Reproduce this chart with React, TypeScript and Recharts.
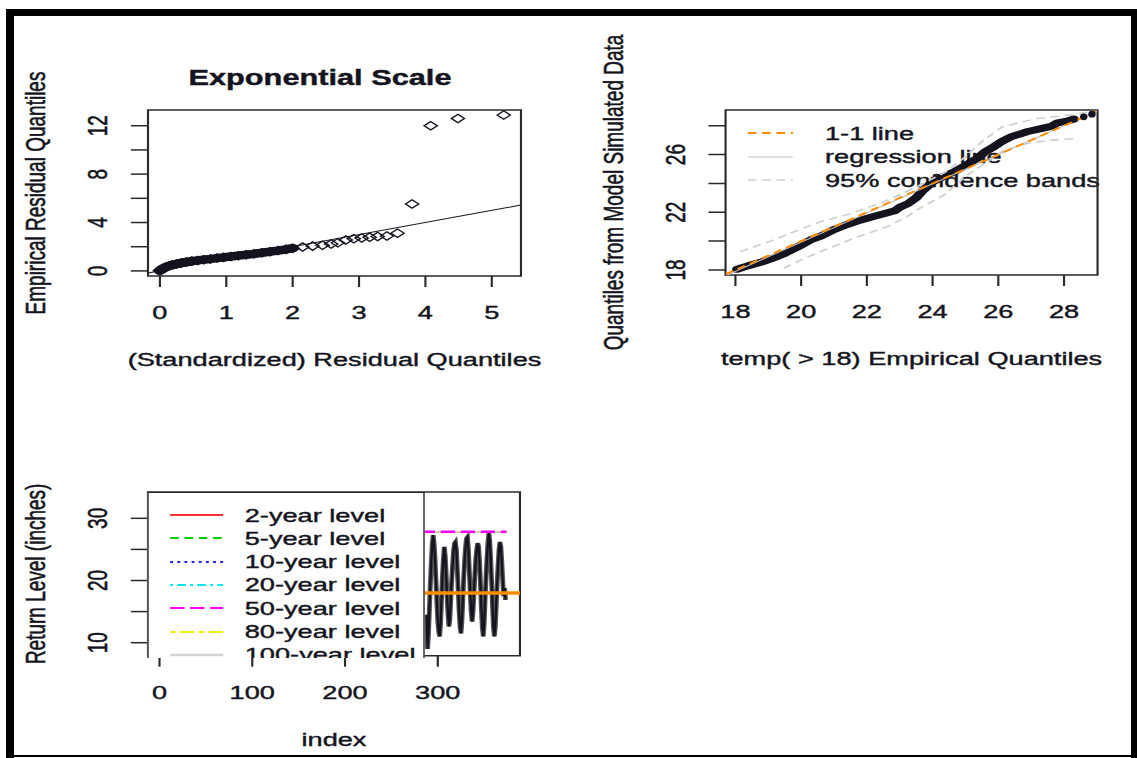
import React from 'react';
import { ComposedChart, Line, Scatter, XAxis, YAxis, ReferenceArea, Legend } from 'recharts';

// ---------------- data ----------------
// Panel 1: exponential-scale QQ plot
const expTheoDense = [0.0, 0.02, 0.04, 0.07, 0.1, 0.14, 0.19, 0.25, 0.32, 0.4, 0.48, 0.57, 0.66, 0.76, 0.86, 0.96, 1.07, 1.18, 1.3, 1.42, 1.54, 1.66, 1.78, 1.9, 2.0];
const expEmpDense = [0.02, 0.1, 0.18, 0.26, 0.34, 0.42, 0.5, 0.58, 0.66, 0.74, 0.81, 0.87, 0.93, 0.99, 1.06, 1.12, 1.19, 1.26, 1.33, 1.41, 1.5, 1.59, 1.68, 1.78, 1.88];
const expTheoTail = [2.15, 2.3, 2.45, 2.58, 2.68, 2.8, 2.92, 3.04, 3.16, 3.28, 3.42, 3.58, 3.8, 4.08, 4.49, 5.18];
const expEmpTail = [1.98, 2.05, 2.12, 2.22, 2.32, 2.55, 2.65, 2.72, 2.78, 2.85, 2.88, 3.12, 5.54, 12.0, 12.6, 12.88];
const expXDomain = [-0.18, 5.44];
const expYDomain = [-0.42, 13.3];
const expXTicks = [0, 1, 2, 3, 4, 5];
const expYTicks = [0, 2, 4, 6, 8, 10, 12];
const expYLabels = [0, 4, 8, 12];

// Panel 2: model vs empirical quantiles
const qqEmp = [18.05, 18.4, 18.8, 19.1, 19.5, 19.9, 20.3, 20.6, 21.0, 21.4, 21.8, 22.2, 22.6, 22.85, 23.0, 23.25, 23.5, 23.7, 24.0, 24.3, 24.65, 25.0, 25.36, 25.6, 25.8, 26.1, 26.4, 26.9, 27.3, 27.6, 27.8, 28.05, 28.3];
const qqModel = [18.05, 18.3, 18.55, 18.78, 19.15, 19.6, 20.1, 20.35, 20.8, 21.15, 21.45, 21.7, 21.95, 22.1, 22.35, 22.6, 23.0, 23.5, 24.1, 24.45, 24.8, 25.25, 25.74, 26.2, 26.45, 26.9, 27.24, 27.6, 27.8, 27.95, 28.2, 28.3, 28.46];
const qqEmpEnd = [28.3, 28.6, 28.85];
const qqModelEnd = [28.46, 28.62, 28.8];
const upperEmp = [18.15, 19.07, 20.07, 20.6, 21.5, 22.5, 23.5, 24.4, 25.0, 25.5, 26.1, 26.6, 27.2, 28.2, 28.9];
const upperModel = [19.27, 20.0, 20.9, 21.35, 21.9, 22.7, 23.75, 24.8, 25.85, 26.9, 27.9, 28.2, 28.5, 28.75, 29.0];
const lowerEmp = [19.47, 20.0, 20.59, 21.6, 22.62, 23.3, 23.43, 24.35, 25.06, 25.67, 26.17, 26.89, 27.6, 28.4];
const lowerModel = [18.12, 18.7, 19.27, 20.2, 21.0, 21.8, 22.04, 23.2, 24.58, 25.5, 26.3, 26.78, 27.0, 27.12];
const oneToOne = [17.7, 29.02];
const regressionX = [17.7, 29.02];
const regressionY = [17.6, 29.05];
const qqXDomain = [17.7, 29.02];
const qqYDomain = [17.65, 29.09];
const qqXTicks = [18, 20, 22, 24, 26, 28];
const qqYTicks = [18, 20, 22, 24, 26, 28];
const qqYLabels = [18, 22, 26];
const qqLegendLabels = ['1-1 line', 'regression line', '95% confidence bands'];
const qqLegendColors = ['#FF8C00', '#BEBEBE', '#CFCFCF'];
const qqLegendDashes = ['6 4', '', '6 4'];
const qqLegendWidths = [1.8, 1, 1.6];

// Panel 3: return levels
const tsStart = 288;
const tempSeries = [
  14.5, 9.0, 11.5, 15.5, 19.5, 23.0, 25.8, 27.3, 26.0, 23.5, 20.0, 16.5, 13.5, 11.8, 11.0,
  13.0, 17.0, 20.5, 23.5, 25.4, 24.0, 21.0, 17.5, 14.5, 12.6, 13.8, 17.0, 20.0, 22.5, 24.8,
  26.0, 26.2, 25.0, 22.0, 18.5, 15.0, 12.5, 11.5, 13.5, 17.0, 20.5, 23.5, 25.5, 26.8, 27.0,
  25.0, 21.5, 18.0, 15.0, 13.4, 15.0, 18.0, 21.0, 23.5, 25.0, 26.0, 25.5, 23.0, 19.5, 15.5,
  12.5, 11.0, 13.0, 17.0, 20.5, 23.5, 26.0, 27.6, 26.5, 23.5, 20.0, 16.0, 12.5, 11.0, 12.5,
  16.0, 19.5, 22.5, 25.0, 26.2, 25.5, 23.0, 20.0, 17.5, 18.8, 16.9,
];
const rlLabels = ['2-year level', '5-year level', '10-year level', '20-year level', '50-year level', '80-year level', '100-year level'];
const rlColors = ['#FF3030', '#00CD00', '#2020FF', '#00E5EE', '#FF00FF', '#EEEE00', '#D3D3D3'];
const rlDashes = ['', '6 4', '2 3', '2 3 6 3', '10 4', '4 3 10 3', ''];
const rlValues = [27.75, 27.8, 27.8, 27.8, 27.85, 27.8, 27.8];
const rlRange = [1, 374];
const drawOrder = [0, 1, 2, 3, 5, 6, 4];
const threshold = 18;
const tsXDomain = [-12.4, 388.6];
const tsYDomain = [7.91, 34.23];
const tsXTicks = [0, 100, 200, 300];
const tsYTicks = [10, 15, 20, 25, 30];
const tsYLabels = [10, 20, 30];

// ---------------- layout helpers ----------------
const S = 1.43; // horizontal stretch of the original picture
const px = (v: number) => v / S;
const FONT = "'Liberation Sans', Arial, Helvetica, sans-serif";
const INK = '#141420';
const BOX = '#2a2a2a';
const Y_AXIS_W = 50;
const X_AXIS_H = 30;

type Box = { left: number; right: number; top: number; bottom: number };
type Frame = { left: number; top: number; width: number; height: number };

function layout(p: Box, c: Frame) {
  const plotLeft = px(p.left - c.left);
  const plotRight = px(p.right - c.left);
  const plotTop = p.top - c.top;
  const plotBottom = p.bottom - c.top;
  const width = px(c.width);
  return {
    width,
    height: c.height,
    plotLeft,
    plotRight,
    plotTop,
    plotBottom,
    margin: { left: plotLeft - Y_AXIS_W, right: width - plotRight, top: plotTop, bottom: c.height - plotBottom - X_AXIS_H },
    style: { position: 'absolute' as const, left: px(c.left), top: c.top },
  };
}

const L1 = layout({ left: 148, right: 521, top: 110, bottom: 276 }, { left: 0, top: 0, width: 568, height: 380 });
const L2 = layout({ left: 725, right: 1097, top: 110, bottom: 275 }, { left: 570, top: 0, width: 560, height: 380 });
const L3 = layout({ left: 148, right: 520, top: 492, bottom: 655.7 }, { left: 0, top: 470, width: 568, height: 288 });

const txt = { fontFamily: FONT, fontSize: 19, fill: INK, stroke: INK, strokeWidth: 0.4 };
const tickLine = { stroke: BOX, strokeWidth: 1.5 };

function makeXTick(L: any, labels?: number[]) {
  return (props: any) => {
    const v = props.payload?.value;
    if (labels && !labels.includes(v)) return <g />;
    return (
      <text x={props.x} y={L.plotBottom + 37} textAnchor="middle" dominantBaseline="central" {...txt}>
        {v}
      </text>
    );
  };
}
function makeYTick(L: any, labels?: number[]) {
  return (props: any) => {
    const v = props.payload?.value;
    if (labels && !labels.includes(v)) return <g />;
    const x = L.plotLeft - px(50);
    return (
      <text x={x} y={props.y} transform={`rotate(-90 ${x} ${props.y})`} textAnchor="middle" dominantBaseline="central" {...txt}>
        {v}
      </text>
    );
  };
}
function xTitle(L: any, text: string, main?: string, mainX?: number) {
  return {
    content: () => (
      <g>
        <text x={(L.plotLeft + L.plotRight) / 2} y={L.plotBottom + 84} textAnchor="middle" dominantBaseline="central" {...txt}>
          {text}
        </text>
        {main ? (
          <text x={mainX ?? (L.plotLeft + L.plotRight) / 2} y={L.plotTop - 32} textAnchor="middle" dominantBaseline="central" {...txt} fontSize={21.5} fontWeight="bold">
            {main}
          </text>
        ) : null}
      </g>
    ),
  };
}
function yTitle(L: any, text: string) {
  const x = L.plotLeft - px(112);
  const y = (L.plotTop + L.plotBottom) / 2;
  return {
    content: () => (
      <text x={x} y={y} transform={`rotate(-90 ${x} ${y})`} textAnchor="middle" dominantBaseline="central" {...txt}>
        {text}
      </text>
    ),
  };
}

const Diamond = (props: any) => {
  const { cx, cy } = props;
  if (cx == null || cy == null) return <g />;
  const w = 4.6;
  const h = 4.2;
  return <path d={`M${cx - w},${cy} L${cx},${cy - h} L${cx + w},${cy} L${cx},${cy + h} Z`} fill="none" stroke={INK} strokeWidth={1.2} />;
};
const Dot = (props: any) => {
  const { cx, cy } = props;
  if (cx == null || cy == null) return <g />;
  return <ellipse cx={cx} cy={cy} rx={2.6} ry={3.4} fill={INK} />;
};

function LegendRows(p: {
  labels: string[];
  colors: string[];
  dashes: string[];
  widths: number[];
  rowTop: number;
  rowGap: number;
  sampleX0: number;
  sampleX1: number;
  textX: number;
}) {
  return (
    <div style={{ position: 'relative', width: '100%', height: '100%', fontFamily: FONT, fontSize: 19, color: INK, WebkitTextStroke: `0.4px ${INK}` }}>
      {p.labels.map((lab, i) => {
        const cy = p.rowTop + i * p.rowGap;
        const w = p.sampleX1 - p.sampleX0;
        return (
          <React.Fragment key={lab}>
            <svg style={{ position: 'absolute', left: p.sampleX0, top: cy - 4, overflow: 'visible' }} width={w} height={8}>
              <line x1={0} y1={4} x2={w} y2={4} stroke={p.colors[i]} strokeWidth={p.widths[i]} strokeDasharray={p.dashes[i] || undefined} />
            </svg>
            <div style={{ position: 'absolute', left: p.textX, top: cy - 11.5, height: 23, lineHeight: '23px', whiteSpace: 'nowrap' }}>{lab}</div>
          </React.Fragment>
        );
      })}
    </div>
  );
}

const pairs = (xs: number[], ys: number[]) => xs.map((x, i) => ({ x, y: ys[i] }));

// ---------------- panels ----------------
function Panel1() {
  const dense = pairs(expTheoDense, expEmpDense);
  const tail = pairs(expTheoTail, expEmpTail);
  const ref = [
    { x: expXDomain[0], y: expXDomain[0] },
    { x: expXDomain[1], y: expXDomain[1] },
  ];
  return (
    <div style={L1.style}>
      <ComposedChart width={L1.width} height={L1.height} margin={L1.margin}>
        <XAxis type="number" dataKey="x" domain={expXDomain} allowDataOverflow ticks={expXTicks} interval={0} axisLine={false} tickLine={tickLine} tickSize={11} tick={makeXTick(L1)} height={X_AXIS_H} label={xTitle(L1, '(Standardized) Residual Quantiles', 'Exponential Scale', px(320))} />
        <YAxis type="number" dataKey="y" domain={expYDomain} allowDataOverflow ticks={expYTicks} interval={0} axisLine={false} tickLine={tickLine} tickSize={12} tick={makeYTick(L1, expYLabels)} width={Y_AXIS_W} label={yTitle(L1, 'Empirical Residual Quantiles')} />
        <ReferenceArea x1={expXDomain[0]} x2={expXDomain[1]} y1={expYDomain[0]} y2={expYDomain[1]} fill="none" fillOpacity={0} stroke={BOX} strokeWidth={1.5} ifOverflow="visible" />
        <Line data={ref} dataKey="y" stroke={INK} strokeWidth={1} dot={false} isAnimationActive={false} />
        <Line data={dense} dataKey="y" stroke={INK} strokeWidth={8.5} strokeLinecap="round" strokeLinejoin="round" dot={false} isAnimationActive={false} />
        <Scatter data={dense} dataKey="y" shape={Diamond} isAnimationActive={false} />
        <Scatter data={tail} dataKey="y" shape={Diamond} isAnimationActive={false} />
      </ComposedChart>
    </div>
  );
}

function Panel2() {
  const qq = pairs(qqEmp, qqModel);
  const qqEnd = pairs(qqEmpEnd, qqModelEnd);
  const upper = pairs(upperEmp, upperModel);
  const lower = pairs(lowerEmp, lowerModel);
  const one = pairs(oneToOne, oneToOne);
  const reg = pairs(regressionX, regressionY);
  const legLeft = 740;
  const legTop = 118;
  return (
    <div style={L2.style}>
      <ComposedChart width={L2.width} height={L2.height} margin={L2.margin}>
        <XAxis type="number" dataKey="x" domain={qqXDomain} allowDataOverflow ticks={qqXTicks} interval={0} axisLine={false} tickLine={tickLine} tickSize={11} tick={makeXTick(L2)} height={X_AXIS_H} label={xTitle(L2, 'temp( > 18) Empirical Quantiles')} />
        <YAxis type="number" dataKey="y" domain={qqYDomain} allowDataOverflow ticks={qqYTicks} interval={0} axisLine={false} tickLine={tickLine} tickSize={12} tick={makeYTick(L2, qqYLabels)} width={Y_AXIS_W} label={yTitle(L2, 'Quantiles from Model Simulated Data')} />
        <ReferenceArea x1={qqXDomain[0]} x2={qqXDomain[1]} y1={qqYDomain[0]} y2={qqYDomain[1]} fill="none" fillOpacity={0} stroke={BOX} strokeWidth={1.5} ifOverflow="visible" />
        <Line data={qq} dataKey="y" stroke={INK} strokeWidth={7} strokeLinecap="round" strokeLinejoin="round" dot={false} isAnimationActive={false} />
        <Scatter data={qqEnd} dataKey="y" shape={Dot} isAnimationActive={false} />
        <Line data={reg} dataKey="y" stroke={qqLegendColors[1]} strokeWidth={1} dot={false} isAnimationActive={false} />
        <Line data={upper} dataKey="y" stroke={qqLegendColors[2]} strokeWidth={1.6} strokeDasharray={qqLegendDashes[2]} dot={false} isAnimationActive={false} />
        <Line data={lower} dataKey="y" stroke={qqLegendColors[2]} strokeWidth={1.6} strokeDasharray={qqLegendDashes[2]} dot={false} isAnimationActive={false} />
        <Line data={one} dataKey="y" stroke={qqLegendColors[0]} strokeWidth={1.8} strokeDasharray={qqLegendDashes[0]} dot={false} isAnimationActive={false} />
        <Legend
          layout="vertical"
          align="center"
          verticalAlign="middle"
          wrapperStyle={{ left: px(legLeft - 570), top: legTop, width: px(370), height: 80, zIndex: -1 }}
          content={() => (
            <LegendRows
              labels={qqLegendLabels}
              colors={qqLegendColors}
              dashes={qqLegendDashes}
              widths={qqLegendWidths}
              rowTop={133 - legTop}
              rowGap={23.5}
              sampleX0={px(748 - legLeft)}
              sampleX1={px(793 - legLeft)}
              textX={px(825 - legLeft)}
            />
          )}
        />
      </ComposedChart>
    </div>
  );
}

function Panel3() {
  const ts = tempSeries.map((v, i) => ({ x: tsStart + i, y: v }));
  const thr = [
    { x: tsXDomain[0], y: threshold },
    { x: tsXDomain[1], y: threshold },
  ];
  const legLeft = 148;
  const legTop = 492;
  const border = 1.5;
  return (
    <div style={L3.style}>
      <ComposedChart width={L3.width} height={L3.height} margin={L3.margin}>
        <XAxis type="number" dataKey="x" domain={tsXDomain} allowDataOverflow ticks={tsXTicks} interval={0} axisLine={false} tickLine={tickLine} tickSize={11} tick={makeXTick(L3)} height={X_AXIS_H} label={xTitle(L3, 'index')} />
        <YAxis type="number" dataKey="y" domain={tsYDomain} allowDataOverflow ticks={tsYTicks} interval={0} axisLine={false} tickLine={tickLine} tickSize={12} tick={makeYTick(L3, tsYLabels)} width={Y_AXIS_W} label={yTitle(L3, 'Return Level (inches)')} />
        <ReferenceArea x1={tsXDomain[0]} x2={tsXDomain[1]} y1={tsYDomain[0]} y2={tsYDomain[1]} fill="none" fillOpacity={0} stroke={BOX} strokeWidth={1.5} ifOverflow="visible" />
        <Line data={ts} dataKey="y" stroke="#555555" strokeWidth={3.4} dot={false} isAnimationActive={false} />
        <Line data={ts} dataKey="y" stroke={INK} strokeWidth={1.6} dot={false} isAnimationActive={false} />
        <Line data={thr} dataKey="y" stroke="#FF8C00" strokeWidth={3.5} dot={false} isAnimationActive={false} />
        {drawOrder.map((i) => (
          <Line
            key={rlLabels[i]}
            data={[
              { x: rlRange[0], y: rlValues[i] },
              { x: rlRange[1], y: rlValues[i] },
            ]}
            dataKey="y"
            stroke={rlColors[i]}
            strokeWidth={i === 4 ? 2.4 : 1.6}
            strokeDasharray={rlDashes[i] || undefined}
            dot={false}
            isAnimationActive={false}
          />
        ))}
        <Legend
          layout="vertical"
          align="center"
          verticalAlign="middle"
          wrapperStyle={{
            left: px(legLeft),
            top: legTop - 470,
            width: px(425 - legLeft),
            height: 166,
            background: '#fff',
            borderLeft: `${border}px solid ${BOX}`,
            borderTop: `${border}px solid ${BOX}`,
            borderRight: `${border}px solid ${BOX}`,
            boxSizing: 'border-box',
            overflow: 'hidden',
          }}
          content={() => (
            <LegendRows
              labels={rlLabels}
              colors={rlColors}
              dashes={rlDashes}
              widths={[2, 2, 2, 2, 2, 2, 2.5]}
              rowTop={515.5 - legTop - border}
              rowGap={23.3}
              sampleX0={px(171 - legLeft) - border}
              sampleX1={px(224 - legLeft) - border}
              textX={px(245.5 - legLeft) - border}
            />
          )}
        />
      </ComposedChart>
    </div>
  );
}

export default function App() {
  const bar = (l: number, t: number, w: number, h: number) => (
    <div style={{ position: 'absolute', left: l, top: t, width: w, height: h, background: '#000' }} />
  );
  return (
    <div style={{ position: 'absolute', left: 0, top: 0, width: 1137, height: 758, background: '#fff', overflow: 'hidden' }}>
      <div
        style={{
          position: 'absolute',
          left: 0,
          top: 0,
          width: px(1137),
          height: 758,
          transform: `scaleX(${S})`,
          transformOrigin: '0 0',
          fontFamily: FONT,
        }}
      >
        <Panel1 />
        <Panel2 />
        <Panel3 />
      </div>
      {bar(6, 9, 1131, 7)}
      {bar(6, 9, 8, 749)}
      {bar(1131, 9, 6, 749)}
      {bar(6, 755, 1131, 2)}
    </div>
  );
}
